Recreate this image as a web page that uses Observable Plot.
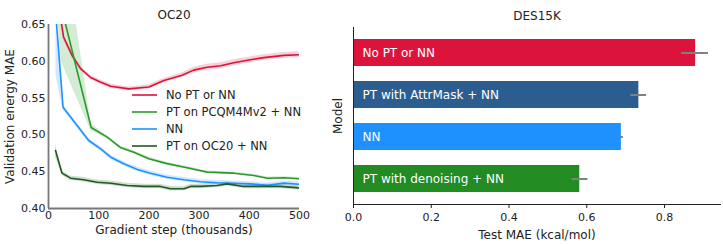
<!DOCTYPE html>
<html>
<head>
<meta charset="utf-8">
<script src="https://cdn.jsdelivr.net/npm/d3@7"></script>
<script src="https://cdn.jsdelivr.net/npm/@observablehq/plot@0.6"></script>
<style>
  html, body { margin: 0; padding: 0; background: #fff; }
  #wrap { position: relative; width: 723px; height: 244px; display: flex; font-family: "DejaVu Sans", sans-serif; }
  #left, #right { position: relative; }
  #legend { position: absolute; left: 0; top: 0; pointer-events: none; }
</style>
</head>
<body>
<div id="wrap"><div id="left"></div><div id="right"></div></div>
<script>
// ---------- OC20 data (gradient step in thousands, validation energy MAE) ----------
const seriesNames = ["No PT or NN", "PT on PCQM4Mv2 + NN", "NN", "PT on OC20 + NN"];
const seriesColors = ["#DC143C", "#2a9a2a", "#1E90FF", "#1f5a1f"];

const redSteps = [15, 30, 47, 64, 84, 103, 124, 160, 200, 230, 266, 289, 316, 343, 369, 402, 429, 469, 499];
const redVals  = [0.700, 0.633, 0.608, 0.590, 0.578, 0.572, 0.566, 0.5625, 0.565, 0.574, 0.581, 0.588, 0.592, 0.594, 0.598, 0.602, 0.605, 0.608, 0.609];
const redLo    = [0.690, 0.629, 0.604, 0.587, 0.575, 0.569, 0.563, 0.560, 0.562, 0.571, 0.578, 0.584, 0.588, 0.590, 0.594, 0.598, 0.601, 0.604, 0.605];
const redHi    = [0.710, 0.637, 0.612, 0.593, 0.581, 0.575, 0.569, 0.565, 0.568, 0.577, 0.584, 0.592, 0.596, 0.598, 0.602, 0.606, 0.609, 0.612, 0.613];

const pcqmSteps = [17, 25, 85, 117, 143, 170, 200, 236, 276, 316, 369, 409, 436, 469, 499];
const pcqmVals  = [0.700, 0.675, 0.510, 0.497, 0.483, 0.4765, 0.4675, 0.461, 0.4553, 0.4494, 0.448, 0.4448, 0.4412, 0.4417, 0.4404];
const pcqmLo    = [0.680, 0.600, 0.505, 0.495, 0.481, 0.4745, 0.4655, 0.459, 0.4535, 0.4478, 0.4464, 0.4432, 0.4396, 0.4401, 0.4388];
const pcqmHi    = [0.720, 0.790, 0.515, 0.499, 0.485, 0.4785, 0.4695, 0.463, 0.4571, 0.451, 0.4496, 0.4464, 0.4428, 0.4433, 0.442];

const nnSteps = [15, 29, 57, 80, 104, 124, 150, 177, 203, 236, 270, 303, 336, 369, 402, 436, 469, 499];
const nnVals  = [0.660, 0.5376, 0.5128, 0.4924, 0.481, 0.4697, 0.4607, 0.453, 0.448, 0.4425, 0.439, 0.4363, 0.435, 0.4344, 0.4335, 0.4315, 0.4345, 0.433];
const nnLo    = [0.580, 0.534, 0.5098, 0.4894, 0.478, 0.4667, 0.4577, 0.450, 0.445, 0.4395, 0.436, 0.4333, 0.432, 0.4314, 0.4305, 0.4285, 0.4315, 0.430];
const nnHi    = [0.668, 0.541, 0.5158, 0.4954, 0.484, 0.4727, 0.4637, 0.456, 0.451, 0.4455, 0.442, 0.4393, 0.438, 0.4374, 0.4365, 0.4345, 0.4375, 0.436];

const oc20Steps = [14, 27, 44, 70, 97, 124, 157, 190, 223, 243, 270, 283, 303, 336, 356, 389, 436, 462, 499];
const oc20Vals  = [0.4788, 0.448, 0.4412, 0.439, 0.4357, 0.4344, 0.4312, 0.430, 0.430, 0.4268, 0.4268, 0.430, 0.430, 0.4312, 0.4335, 0.430, 0.430, 0.430, 0.428];
const oc20Lo    = [0.470, 0.445, 0.4382, 0.436, 0.4327, 0.4314, 0.4282, 0.427, 0.427, 0.4238, 0.4238, 0.427, 0.427, 0.4282, 0.4305, 0.427, 0.427, 0.427, 0.425];
const oc20Hi    = [0.487, 0.451, 0.4442, 0.442, 0.4387, 0.4374, 0.4342, 0.433, 0.433, 0.4298, 0.4298, 0.433, 0.433, 0.4342, 0.4365, 0.433, 0.433, 0.433, 0.431];

const leftXTicks = [0, 100, 200, 300, 400, 500];
const leftYTicks = [0.40, 0.45, 0.50, 0.55, 0.60, 0.65];

// ---------- DES15K data ----------
const models   = ["No PT or NN", "PT with AttrMask + NN", "NN", "PT with denoising + NN"];
const testMAE  = [0.880, 0.734, 0.689, 0.582];
const errLow   = [0.844, 0.713, 0.686, 0.562];
const errHigh  = [0.913, 0.754, 0.694, 0.603];
const barColors = ["#DC143C", "#2b5e8f", "#1E90FF", "#228B22"];
const rightXTicks = [0, 0.2, 0.4, 0.6, 0.8];

// ---------- build tables ----------
function rows(name, steps, vals, lo, hi) {
  return steps.map((s, i) => ({series: name, step: s, mae: vals[i], lo: lo[i], hi: hi[i]}));
}
const allSeries = [
  rows(seriesNames[0], redSteps, redVals, redLo, redHi),
  rows(seriesNames[1], pcqmSteps, pcqmVals, pcqmLo, pcqmHi),
  rows(seriesNames[2], nnSteps, nnVals, nnLo, nnHi),
  rows(seriesNames[3], oc20Steps, oc20Vals, oc20Lo, oc20Hi)
];

const font = "DejaVu Sans, sans-serif";
const leftMarks = [];
allSeries.forEach((d, i) => {
  leftMarks.push(Plot.areaY(d, {x: "step", y1: "lo", y2: "hi", fill: seriesColors[i], fillOpacity: 0.2, clip: true}));
});
allSeries.forEach((d, i) => {
  leftMarks.push(Plot.line(d, {x: "step", y: "mae", stroke: seriesColors[i], strokeWidth: 1.6, clip: true}));
});

const left = Plot.plot({
  width: 310, height: 244,
  marginLeft: 48, marginRight: 11, marginTop: 24, marginBottom: 36,
  style: {fontFamily: font, fontSize: "11px", color: "#222", background: "white"},
  x: {domain: [0, 500]},
  y: {domain: [0.40, 0.65]},
  marks: [
    ...leftMarks,
    Plot.ruleX([0], {stroke: "#777", strokeWidth: 1.8}),
    Plot.ruleY([0.40], {stroke: "#777", strokeWidth: 1.8}),
    Plot.axisX({ticks: leftXTicks, tickSize: 0, tickPadding: 3, label: null, fontSize: 11}),
    Plot.axisY({ticks: leftYTicks, tickSize: 0, tickPadding: 3, tickFormat: d3.format(".2f"), label: null, fontSize: 11}),
    Plot.text(["OC20"], {frameAnchor: "top", dy: -9, lineAnchor: "middle", textAnchor: "middle", fontSize: 12, fill: "#222"}),
    Plot.text(["Gradient step (thousands)"], {frameAnchor: "bottom", dy: 22, lineAnchor: "middle", textAnchor: "middle", fontSize: 12, fill: "#222"}),
    Plot.text(["Validation energy MAE"], {frameAnchor: "left", dx: -38, rotate: -90, lineAnchor: "middle", textAnchor: "middle", fontSize: 12, fill: "#222"})
  ]
});
document.getElementById("left").appendChild(left);

// legend overlay (SVG)
const legendSvg = d3.select("#left").append("svg")
  .attr("id", "legend").attr("width", 310).attr("height", 244);
const lg = legendSvg.selectAll("g").data(seriesNames).join("g")
  .attr("transform", (d, i) => `translate(132, ${95 + i * 17})`);
lg.append("line").attr("x1", 0).attr("x2", 25).attr("y1", 0).attr("y2", 0)
  .attr("stroke", (d, i) => seriesColors[i]).attr("stroke-width", 1.6);
lg.append("text").attr("x", 34).attr("y", 0).attr("dy", "0.36em")
  .attr("font-family", font).attr("font-size", "11.5px").attr("fill", "#222").text(d => d);

// ---------- right chart ----------
const bars = models.map((m, i) => ({model: m, mae: testMAE[i], lo: errLow[i], hi: errHigh[i], color: barColors[i]}));

const right = Plot.plot({
  width: 413, height: 244,
  marginLeft: 43, marginRight: 3, marginTop: 27, marginBottom: 40,
  style: {fontFamily: font, fontSize: "11px", color: "#222", background: "white"},
  x: {domain: [0, 0.944]},
  y: {domain: models, paddingInner: 0.36, paddingOuter: 0.27, axis: null},
  color: {type: "identity"},
  marks: [
    Plot.barX(bars, {x: "mae", y: "model", fill: "color"}),
    Plot.ruleY(bars, {y: "model", x1: "lo", x2: "hi", stroke: "#808080", strokeWidth: 2}),
    Plot.text(bars, {y: "model", frameAnchor: "left", dx: 9, text: "model", textAnchor: "start", fill: "white", fontSize: 12}),
    Plot.ruleX([0], {stroke: "#222", strokeWidth: 1}),
    Plot.frame({anchor: "bottom", stroke: "#222", strokeWidth: 1}),
    Plot.axisX({ticks: rightXTicks, tickSize: 4, tickPadding: 5, tickFormat: d3.format(".1f"), label: null, fontSize: 11}),
    Plot.text(["DES15K"], {frameAnchor: "top", dy: -11, lineAnchor: "middle", textAnchor: "middle", fontSize: 12, fill: "#222"}),
    Plot.text(["Test MAE (kcal/mol)"], {frameAnchor: "bottom", dy: 31, lineAnchor: "middle", textAnchor: "middle", fontSize: 12, fill: "#222"}),
    Plot.text(["Model"], {frameAnchor: "left", dx: -15, rotate: -90, lineAnchor: "middle", textAnchor: "middle", fontSize: 12, fill: "#222"})
  ]
});
document.getElementById("right").appendChild(right);
</script>
</body>
</html>
